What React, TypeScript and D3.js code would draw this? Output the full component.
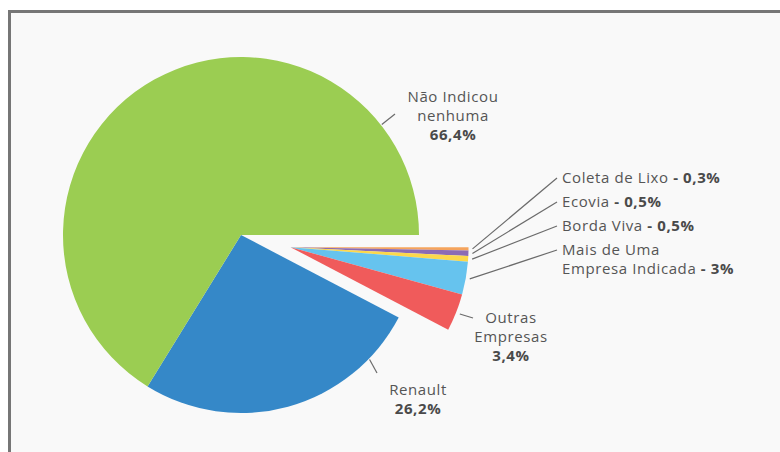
import React from 'react'
import { pie, arc, PieArcDatum } from 'd3'

// slices, clockwise from 3 o'clock
const names = ['Coleta de Lixo', 'Ecovia', 'Borda Viva', 'Mais de Uma Empresa Indicada', 'Outras Empresas', 'Renault', 'Não Indicou nenhuma']
const values = [0.3, 0.5, 0.5, 3, 3.4, 26.2, 66.4]
const valueLabels = ['0,3%', '0,5%', '0,5%', '3%', '3,4%', '26,2%', '66,4%']
const colors = ['#f5a45d', '#8c6bb4', '#fcd84b', '#66c3ee', '#f05b5b', '#3588c8', '#9bcd52']
const exploded = [true, true, true, true, true, false, false]

// label text lines
const labelLines: string[][] = [
    ['Coleta de Lixo'],
    ['Ecovia'],
    ['Borda Viva'],
    ['Mais de Uma', 'Empresa Indicada'],
    ['Outras', 'Empresas'],
    ['Renault'],
    ['Não Indicou', 'nenhuma'],
]

// label layout: where along the slice the leader starts, where it ends, text placement
const labelLayout = [
    { at: 0.5, end: [557, 178], x: 562, y: 182.5, anchor: 'start', inline: true },
    { at: 0.5, end: [557, 202], x: 562, y: 206.5, anchor: 'start', inline: true },
    { at: 0.5, end: [557, 226], x: 562, y: 231, anchor: 'start', inline: true },
    { at: 0.5, end: [557, 250], x: 562, y: 254.5, anchor: 'start', inline: true },
    { at: 0.5, end: [473, 318], x: 511, y: 323, anchor: 'middle', inline: false },
    { at: 0.175, end: [377, 373], x: 418, y: 395, anchor: 'middle', inline: false },
    { at: 0.84, end: [395, 114], x: 453, y: 102, anchor: 'middle', inline: false },
]

const W = 780
const H = 452
const cx = 241
const cy = 235
const R = 178
const explode = 51
const lineH = 19

const App = () => {
    const pieGen = pie<number>().sort(null).value(d => d)
        .startAngle(Math.PI / 2).endAngle(Math.PI / 2 + Math.PI * 2)
    const arcs = pieGen(values)
    const arcGen = arc<PieArcDatum<number>>().innerRadius(0).outerRadius(R)

    // group offset for the exploded slices
    const grp = arcs.filter((a, i) => exploded[i])
    const gMid = (grp[0].startAngle + grp[grp.length - 1].endAngle) / 2
    const off = (i: number) => exploded[i]
        ? [explode * Math.sin(gMid), -explode * Math.cos(gMid)]
        : [0, 0]

    const font = "'Open Sans', sans-serif"

    return (
        <svg width={W} height={H} style={{ position: 'absolute', left: 0, top: 0 }}>
            <rect x={0} y={0} width={W} height={H} fill="#ffffff" />
            <rect x={9.5} y={11.5} width={W + 20} height={H + 20} fill="#f9f9f9" stroke="#767676" strokeWidth={3} />
            <g transform={`translate(${cx},${cy})`}>
                {arcs.map((a, i) => (
                    <path key={names[i]} d={arcGen(a) || ''} fill={colors[i]}
                        transform={`translate(${off(i)[0]},${off(i)[1]})`} />
                ))}
            </g>
            {arcs.map((a, i) => {
                const L = labelLayout[i]
                const ang = a.startAngle + (a.endAngle - a.startAngle) * L.at
                const rr = R + (exploded[i] ? 4 : 1)
                const o = off(i)
                const sx = cx + o[0] + rr * Math.sin(ang)
                const sy = cy + o[1] - rr * Math.cos(ang)
                const lines = labelLines[i]
                return (
                    <g key={'l' + names[i]}>
                        <line x1={sx} y1={sy} x2={L.end[0]} y2={L.end[1]} stroke="#6b6b6b" strokeWidth={1.2} />
                        <text x={L.x} y={L.y} textAnchor={L.anchor as any} fontFamily={font} fontSize={15}
                            letterSpacing={0.6} fill="#555555">
                            {lines.map((ln, j) => {
                                const last = j === lines.length - 1
                                return (
                                    <tspan key={j} x={L.x} dy={j === 0 ? 0 : lineH}>
                                        {ln}
                                        {last && L.inline ? <tspan fontWeight="bold" fill="#4a4a4a">{' - ' + valueLabels[i]}</tspan> : null}
                                    </tspan>
                                )
                            })}
                            {!L.inline ? (
                                <tspan x={L.x} dy={lineH} fontWeight="bold" fill="#4a4a4a">{valueLabels[i]}</tspan>
                            ) : null}
                        </text>
                    </g>
                )
            })}
        </svg>
    )
}

export default App
